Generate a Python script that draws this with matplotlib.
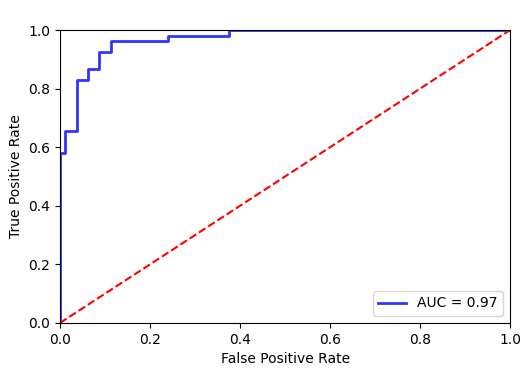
import matplotlib
matplotlib.use("Agg")
import matplotlib.pyplot as plt

fpr = [0.0, 0.0, 0.011, 0.011, 0.037, 0.037, 0.061, 0.061, 0.086, 0.086, 0.112, 0.112, 0.239, 0.239, 0.376, 0.376, 1.0]
tpr = [0.0, 0.579, 0.579, 0.655, 0.655, 0.828, 0.828, 0.866, 0.866, 0.925, 0.925, 0.961, 0.961, 0.980, 0.980, 1.0, 1.0]
auc_label = "AUC = 0.97"
diag = [0, 1]

fig = plt.figure(figsize=(5.32, 3.75), dpi=100)
ax = fig.add_axes([0.113, 0.139, 0.846, 0.781])
ax.plot(fpr, tpr, color="#3333ff", lw=2, label=auc_label)
ax.plot(diag, diag, "r--")
ax.set_xlim(0, 1)
ax.set_ylim(0, 1)
ax.set_xlabel("False Positive Rate")
ax.set_ylabel("True Positive Rate")
ax.legend(loc="lower right")
fig.savefig("out.png", dpi=100)
